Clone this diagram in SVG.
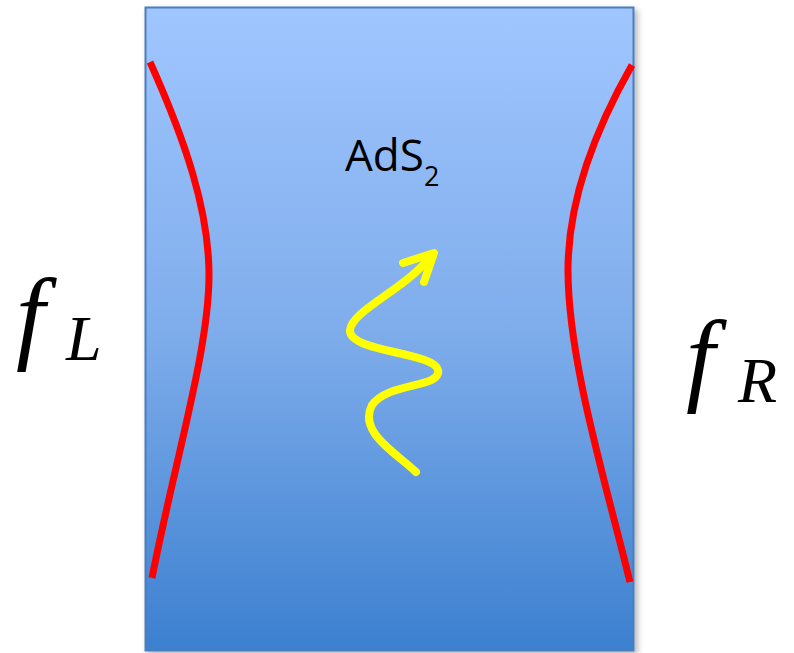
<svg xmlns="http://www.w3.org/2000/svg" width="794" height="653" viewBox="0 0 794 653">
<defs>
<linearGradient id="bg" x1="0" y1="0" x2="0" y2="1">
<stop offset="0" stop-color="#a0c6ff"/>
<stop offset="0.5" stop-color="#7fadeb"/>
<stop offset="1" stop-color="#3c80d0"/>
</linearGradient>
<filter id="sh" x="-5%" y="-5%" width="115%" height="115%">
<feGaussianBlur in="SourceAlpha" stdDeviation="3"/>
<feOffset dx="3" dy="3"/>
<feComponentTransfer><feFuncA type="linear" slope="0.3"/></feComponentTransfer>
<feMerge><feMergeNode/><feMergeNode in="SourceGraphic"/></feMerge>
</filter>
<style>
.red{fill:none;stroke:#ff0000;stroke-width:7;stroke-linecap:butt}
.yel{fill:none;stroke:#ffff00;stroke-width:8;stroke-linecap:round;stroke-linejoin:round}
.math{font-family:"Liberation Serif",serif;font-style:italic;fill:#000}
</style>
</defs>
<rect width="794" height="653" fill="#fff"/>
<g id="bulk">
<rect x="145.500" y="7.500" width="488" height="643" fill="url(#bg)" stroke="#4a7ebb" stroke-width="2" filter="url(#sh)"/>
<text x="345" y="171" font-family="'Open Sans','Liberation Sans',sans-serif" font-size="44" fill="#000">AdS<tspan font-size="27" dy="15">2</tspan></text>
</g>
<g id="boundary-left">
<path class="red" d="M150,62 C185,140 209,210 209,275 C209,350 175,460 152,578"/>
</g>
<g id="boundary-right">
<path class="red" d="M632,65 C595,130 568,200 568,270 C568,360 605,480 630,582"/>
</g>
<g id="wave">
<path class="yel" d="M416,472 C395,452 358,432 372,405 C388,382 442,388 438,370 C434,352 348,352 350,330 C352,310 405,290 432,255"/>
<path class="yel" d="M403,263 L434,253 L424,282"/>
</g>
<g id="label-left">
<text class="math" x="16" y="350" font-size="104">f</text>
<text class="math" x="66" y="360" font-size="64">L</text>
</g>
<g id="label-right">
<text class="math" x="686" y="392" font-size="104">f</text>
<text class="math" x="738" y="402" font-size="64">R</text>
</g>
</svg>
